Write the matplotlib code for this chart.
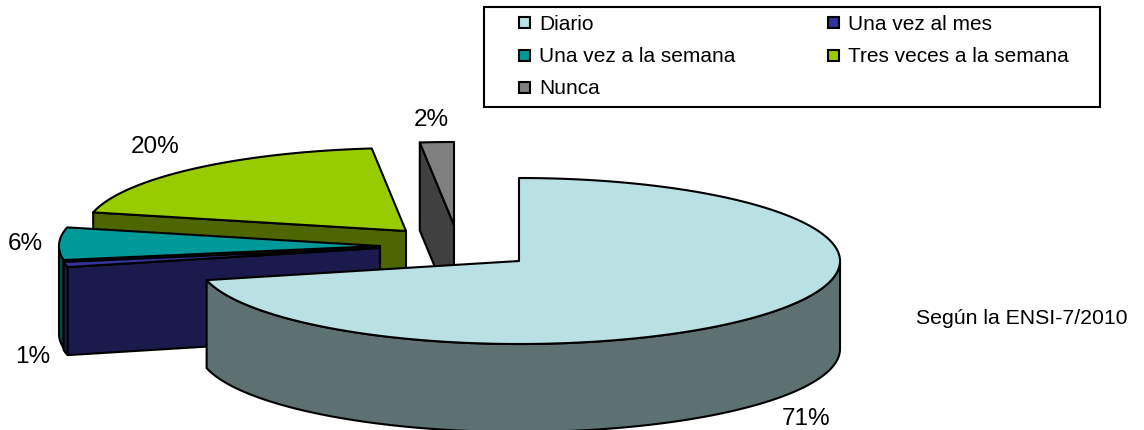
import numpy as np
import matplotlib
matplotlib.use("Agg")
import matplotlib.pyplot as plt
from matplotlib.patches import Polygon, Rectangle

# datos
categorias = ["Diario", "Una vez al mes", "Una vez a la semana", "Tres veces a la semana", "Nunca"]
valores = [71.3, 1.0, 6.3, 19.7, 1.7]
colores = ["#b9e0e3", "#333399", "#009999", "#99cc00", "#808080"]

# layout en pixeles: centro de cada porcion (explode) y lugar de cada etiqueta
centros = [(519, 261), (380, 248), (380, 246), (406, 231), (454, 225)]
pos_etiquetas = [(806, 419), (33, 357), (25, 244), (155, 147), (431, 120)]
pos_leyenda = [(518, 22), (827, 22), (518, 55), (827, 55), (518, 87)]
RX, RY, PROF = 321, 83, 88
LW = 1.5
FS = 15.3
FS_LEY = 15
FS_PCT = 17.5

plt.rcParams["font.family"] = ["Liberation Sans", "DejaVu Sans"]

fig = plt.figure(figsize=(11.44, 4.3), dpi=100)
ax = fig.add_axes([0, 0, 1, 1])
ax.set_xlim(0, 1144)
ax.set_ylim(430, 0)
ax.axis("off")


def borde(c, t):
    # punto del borde de la elipse, t en grados desde las 12 en sentido horario
    r = np.radians(t)
    return np.column_stack([c[0] + RX * np.sin(r), c[1] - RY * np.cos(r)])


def oscuro(color):
    return tuple(v * 0.5 for v in matplotlib.colors.to_rgb(color))


def poligono(pts, color, z):
    ax.add_patch(Polygon(pts, closed=True, facecolor=color, edgecolor="black",
                         linewidth=LW, joinstyle="round", zorder=z))


# angulos de inicio y fin de cada porcion
fin = np.cumsum(valores) / np.sum(valores) * 360
ini = np.concatenate([[0], fin[:-1]])

# de atras hacia adelante
for i in [4, 3, 2, 1, 0]:
    c = centros[i]
    z = 10 - i
    lado = oscuro(colores[i])
    # cara del corte
    if ini[i] > 180:
        p = borde(c, ini[i])[0]
        poligono([c, p, (p[0], p[1] + PROF), (c[0], c[1] + PROF)], lado, z)
    # cara exterior, solo la parte que mira al frente
    a, b = max(ini[i], 90), min(fin[i], 270)
    if b > a:
        arco = borde(c, np.linspace(a, b, 120))
        abajo = arco[::-1] + [0, PROF]
        poligono(np.vstack([arco, abajo]), lado, z)
    # tapa
    tapa = borde(c, np.linspace(ini[i], fin[i], 200))
    poligono(np.vstack([[c], tapa]), colores[i], z)

# porcentajes
for v, (x, y) in zip(valores, pos_etiquetas):
    ax.text(x, y, f"{v:.0f}%", fontsize=FS_PCT, ha="center", va="center", color="black", zorder=20)

# leyenda
ax.add_patch(Rectangle((483.5, 6.5), 616, 100, facecolor="white", edgecolor="black",
                       linewidth=LW, zorder=15))
for nombre, color, (x, y) in zip(categorias, colores, pos_leyenda):
    ax.add_patch(Rectangle((x + 0.5, y - 5.5), 11, 11, facecolor=color, edgecolor="black",
                           linewidth=LW, zorder=16))
    ax.text(x + 21, y + 2, nombre, fontsize=FS_LEY, ha="left", va="center", color="black", zorder=16)

ax.text(916, 318, "Según la ENSI-7/2010", fontsize=FS, ha="left", va="center", color="black")

fig.savefig("out.png", dpi=100)
